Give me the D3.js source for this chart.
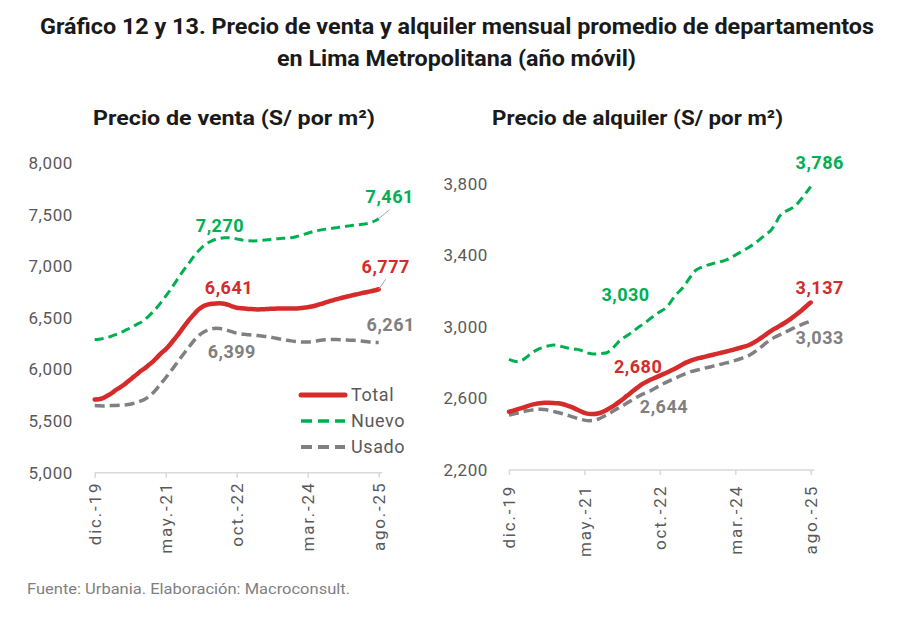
<!DOCTYPE html>
<html>
<head>
<meta charset="utf-8">
<script src="https://cdn.jsdelivr.net/npm/d3@7"></script>
<style>
  body { margin: 0; background: #fff; }
  svg { display: block; font-family: Roboto, "DejaVu Sans", sans-serif; }
</style>
</head>
<body>
<svg id="chart" width="910" height="622"></svg>
<script>
// month index 0 = dic.-19 ... 68 = ago.-25
const tickIdx = [0, 17, 34, 51, 68];
const tickLabels = ["dic.-19", "may.-21", "oct.-22", "mar.-24", "ago.-25"];
const seriesNames = ["Total", "Nuevo", "Usado"];

const ventaTicks = [5000, 5500, 6000, 6500, 7000, 7500, 8000];
const alquilerTicks = [2200, 2600, 3000, 3400, 3800];

const ventaTotal = [5710, 5712, 5722, 5745, 5768, 5800, 5825, 5852, 5885, 5918, 5950, 5985, 6012, 6045, 6078, 6120, 6160, 6195, 6240, 6290,
  6340, 6395, 6450, 6500, 6545, 6585, 6612, 6628, 6636, 6640, 6641, 6636, 6625, 6610, 6598, 6594, 6590, 6586, 6584, 6582,
  6583, 6585, 6587, 6589, 6590, 6591, 6590, 6590, 6591, 6594, 6598, 6603, 6610, 6620, 6632, 6645, 6658, 6670, 6682, 6692,
  6702, 6712, 6722, 6730, 6740, 6748, 6756, 6765, 6777];
const ventaNuevo = [6290, 6293, 6300, 6310, 6322, 6338, 6355, 6372, 6392, 6412, 6435, 6455, 6485, 6520, 6560, 6605, 6655, 6710, 6765, 6825,
  6885, 6945, 7000, 7055, 7110, 7155, 7195, 7225, 7245, 7262, 7270, 7275, 7276, 7272, 7265, 7256, 7250, 7246, 7245, 7246,
  7250, 7255, 7260, 7264, 7267, 7270, 7272, 7276, 7284, 7295, 7308, 7320, 7332, 7342, 7350, 7357, 7363, 7368, 7374, 7380,
  7386, 7391, 7396, 7401, 7406, 7412, 7422, 7438, 7461];
const ventaUsado = [5650, 5648, 5647, 5648, 5650, 5652, 5654, 5656, 5660, 5668, 5680, 5695, 5712, 5740, 5775, 5820, 5870, 5920, 5972, 6025,
  6080, 6135, 6188, 6240, 6290, 6330, 6360, 6380, 6393, 6399, 6396, 6388, 6376, 6364, 6352, 6345, 6340, 6336, 6332, 6328,
  6324, 6320, 6314, 6306, 6298, 6290, 6283, 6277, 6272, 6268, 6265, 6266, 6270, 6276, 6282, 6287, 6290, 6291, 6290, 6288,
  6286, 6284, 6282, 6279, 6275, 6270, 6265, 6262, 6261];

const alquilerTotal = [2526, 2532, 2540, 2548, 2556, 2564, 2570, 2574, 2576, 2576, 2575, 2573, 2569, 2562, 2553, 2542, 2530, 2520, 2514, 2513,
  2516, 2524, 2536, 2550, 2566, 2584, 2603, 2623, 2643, 2662, 2680, 2694, 2706, 2717, 2728, 2739, 2750, 2762, 2775, 2789,
  2802, 2812, 2820, 2827, 2833, 2839, 2845, 2851, 2857, 2863, 2869, 2876, 2883, 2890, 2898, 2910, 2925, 2942, 2960, 2977,
  2992, 3006, 3021, 3037, 3055, 3074, 3094, 3116, 3137];
const alquilerNuevo = [2819, 2810, 2806, 2815, 2832, 2852, 2868, 2880, 2888, 2895, 2899, 2896, 2890, 2884, 2880, 2876, 2871, 2862, 2853, 2849,
  2850, 2852, 2856, 2872, 2898, 2925, 2942, 2958, 2975, 2995, 3012, 3030, 3050, 3068, 3085, 3100, 3125, 3160, 3190, 3215,
  3248, 3285, 3315, 3330, 3340, 3348, 3355, 3362, 3368, 3375, 3388, 3402, 3416, 3430, 3445, 3462, 3480, 3500, 3520, 3540,
  3575, 3620, 3642, 3655, 3668, 3690, 3720, 3752, 3786];
const alquilerUsado = [2508, 2513, 2519, 2525, 2531, 2535, 2538, 2540, 2538, 2534, 2528, 2522, 2515, 2508, 2500, 2492, 2485, 2479, 2476, 2477,
  2484, 2495, 2508, 2522, 2537, 2551, 2565, 2580, 2596, 2610, 2623, 2634, 2644, 2659, 2672, 2685, 2697, 2709, 2720, 2731,
  2741, 2750, 2757, 2763, 2769, 2775, 2781, 2787, 2793, 2799, 2806, 2813, 2821, 2830, 2840, 2855, 2872, 2892, 2912, 2930,
  2944, 2956, 2968, 2980, 2992, 3004, 3014, 3024, 3033];

const colors = { Total: "#d52b2b", Nuevo: "#00b050", Usado: "#808080" };
const styles = {
  Total: { width: 4.5, dash: null, legendDash: null },
  Nuevo: { width: 3, dash: "9,5", legendDash: "11,6" },
  Usado: { width: 3.5, dash: "10,5", legendDash: "11,6" }
};

const svg = d3.select("#chart");
const fmt = d3.format(",");

// titles
const title = svg.append("g").attr("font-weight", "bold").attr("fill", "#1a1a1a").attr("text-anchor", "middle");
title.append("text").attr("x", 457).attr("y", 34).attr("font-size", 22)
  .attr("textLength", 834).attr("lengthAdjust", "spacingAndGlyphs")
  .text("Gráfico 12 y 13. Precio de venta y alquiler mensual promedio de departamentos");
title.append("text").attr("x", 456.5).attr("y", 66).attr("font-size", 22)
  .attr("textLength", 359).attr("lengthAdjust", "spacingAndGlyphs")
  .text("en Lima Metropolitana (año móvil)");

svg.append("text").attr("x", 27).attr("y", 594).attr("font-size", 14).attr("fill", "#7f7f7f")
  .attr("textLength", 323).attr("lengthAdjust", "spacingAndGlyphs")
  .text("Fuente: Urbania. Elaboración: Macroconsult.");

function drawPanel(p) {
  const g = svg.append("g");
  const x = d3.scaleLinear().domain([0, 68]).range(p.xRange);
  const y = d3.scaleLinear().domain(p.yDomain).range(p.yRange);

  g.append("text").attr("x", p.subX).attr("y", 125).attr("text-anchor", "middle")
    .attr("font-size", 21).attr("font-weight", "bold").attr("fill", "#1a1a1a")
    .attr("textLength", p.subW).attr("lengthAdjust", "spacingAndGlyphs")
    .text(p.subtitle);

  // y axis (labels only)
  const ya = g.append("g").attr("transform", `translate(${p.xRange[0]},0)`)
    .call(d3.axisLeft(y).tickValues(p.yTicks).tickFormat(fmt).tickSize(0).tickPadding(p.xRange[0] - p.yLabelRight));
  ya.select(".domain").remove();
  ya.selectAll("text").attr("font-size", 17).attr("fill", "#595959")
    .attr("font-family", "Roboto, sans-serif").style("letter-spacing", "0.6px");

  // x axis
  const baseY = p.yRange[0];
  const xa = g.append("g").attr("transform", `translate(0,${baseY})`)
    .call(d3.axisBottom(x).tickValues(tickIdx).tickFormat((d, i) => tickLabels[i]).tickSizeInner(5).tickSizeOuter(0));
  xa.select(".domain").remove();
  xa.append("line").attr("x1", x(0)).attr("x2", x(68) + (x(1) - x(0)) * 0.85)
    .attr("stroke", "#d9d9d9").attr("stroke-width", 1.5);
  xa.selectAll(".tick line").attr("stroke", "#d9d9d9").attr("stroke-width", 1.5);
  xa.selectAll(".tick text")
    .attr("transform", "rotate(-90)")
    .attr("x", -p.xLabelOff).attr("y", 0).attr("dy", "0.35em")
    .style("text-anchor", "end").style("letter-spacing", "1.8px")
    .attr("font-size", 17).attr("fill", "#595959").attr("font-family", "Roboto, sans-serif");

  const line = d3.line().x((d, i) => x(i)).y(d => y(d)).curve(d3.curveMonotoneX);

  // draw Usado, Nuevo, then Total on top
  ["Usado", "Nuevo", "Total"].forEach(name => {
    const st = styles[name];
    g.append("path").datum(p.data[name])
      .attr("d", line)
      .attr("fill", "none")
      .attr("stroke", colors[name])
      .attr("stroke-width", st.width)
      .attr("stroke-dasharray", st.dash)
      .attr("stroke-linejoin", "round")
      .attr("stroke-linecap", st.dash ? "butt" : "round");
  });

  // data labels
  p.labels.forEach(l => {
    const v = p.data[l.s][l.i];
    const px = x(l.i), py = y(v);
    const cx = px + l.dx, cy = py + l.dy;
    if (l.leader) {
      g.append("line").attr("x1", px).attr("y1", py).attr("x2", cx).attr("y2", cy + 13)
        .attr("stroke", "#a6a6a6").attr("stroke-width", 1);
    }
    g.append("text").attr("x", cx).attr("y", cy).attr("dy", "0.35em")
      .attr("text-anchor", "middle").attr("font-size", 18).attr("font-weight", "bold")
      .style("letter-spacing", "0.5px")
      .attr("fill", colors[l.s]).text(fmt(v));
  });

  if (p.legend) {
    const lg = g.append("g").attr("transform", `translate(${p.legend.x},${p.legend.y})`);
    seriesNames.forEach((name, k) => {
      const st = styles[name];
      const row = lg.append("g").attr("transform", `translate(0,${k * 26})`);
      row.append("line").attr("x1", 1).attr("x2", 45).attr("y1", 0).attr("y2", 0)
        .attr("stroke", colors[name]).attr("stroke-width", st.width + 0.5)
        .attr("stroke-dasharray", st.legendDash).attr("stroke-linecap", st.dash ? "butt" : "round");
      row.append("text").attr("x", 51).attr("y", 0).attr("dy", "0.35em")
        .attr("font-size", 18).attr("fill", "#595959").style("letter-spacing", "0.6px").text(name);
    });
  }
}

drawPanel({
  subtitle: "Precio de venta (S/ por m²)", subX: 234, subW: 282,
  xRange: [94.7, 378.7], yDomain: [5000, 8000], yRange: [472.7, 163], yTicks: ventaTicks,
  yLabelRight: 73, xLabelOff: 9,
  data: { Total: ventaTotal, Nuevo: ventaNuevo, Usado: ventaUsado },
  labels: [
    { s: "Nuevo", i: 30, dx: 0, dy: -13 },
    { s: "Total", i: 30, dx: 9, dy: -16 },
    { s: "Usado", i: 29, dx: 16, dy: 23 },
    { s: "Nuevo", i: 68, dx: 11, dy: -22, leader: true },
    { s: "Total", i: 68, dx: 7, dy: -23, leader: true },
    { s: "Usado", i: 68, dx: 12, dy: -18 }
  ],
  legend: { x: 300, y: 395 }
});

drawPanel({
  subtitle: "Precio de alquiler (S/ por m²)", subX: 637.5, subW: 291,
  xRange: [509, 810.7], yDomain: [2200, 3800], yRange: [470, 184], yTicks: alquilerTicks,
  yLabelRight: 488, xLabelOff: 15,
  data: { Total: alquilerTotal, Nuevo: alquilerNuevo, Usado: alquilerUsado },
  labels: [
    { s: "Nuevo", i: 31, dx: -21, dy: -27 },
    { s: "Total", i: 30, dx: -4, dy: -18 },
    { s: "Usado", i: 32, dx: 13, dy: 16 },
    { s: "Nuevo", i: 68, dx: 9, dy: -24 },
    { s: "Total", i: 68, dx: 9, dy: -15 },
    { s: "Usado", i: 68, dx: 9, dy: 17 }
  ]
});
</script>
</body>
</html>
